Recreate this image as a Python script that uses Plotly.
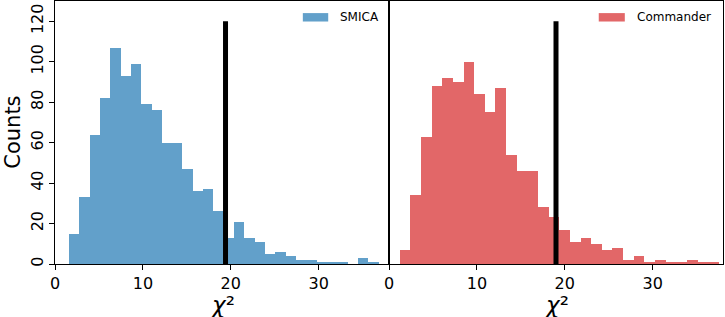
import plotly.graph_objects as go
from plotly.subplots import make_subplots

# ---- data ----
smica_bin_start = 1.59
smica_bin_width = 1.174
smica_counts = [15, 33, 64, 82, 107, 93, 99, 79, 76, 60, 60, 47, 36, 37, 26,
                13, 21, 13, 11, 5, 6, 4, 2, 2, 1, 1, 1, 0, 3, 1]
smica_obs = 19.4

cmd_bin_start = 1.22
cmd_bin_width = 1.21
cmd_counts = [7, 34, 63, 88, 92, 90, 100, 84, 75, 87, 54, 46, 46, 28, 23,
              17, 11, 13, 10, 7, 8, 2, 4, 1, 2, 1, 1, 2, 1, 1]
cmd_obs = 19.0

line_top = 120
x_ticks = [0, 10, 20, 30]
y_ticks = [0, 20, 40, 60, 80, 100, 120]
labels = ["SMICA", "Commander"]

def centers(start, width, counts):
    return [start + width * (i + 0.5) for i in range(len(counts))]

FONT = "DejaVu Sans"
BLUE = "rgba(31,119,180,0.7)"
RED = "rgba(214,39,40,0.7)"
fig = make_subplots(rows=1, cols=2, shared_yaxes=True, horizontal_spacing=0)

fig.add_trace(go.Bar(
    x=centers(smica_bin_start, smica_bin_width, smica_counts), y=smica_counts,
    width=smica_bin_width, name=labels[0],
    marker=dict(color=BLUE, line=dict(width=0)), showlegend=False), row=1, col=1)
fig.add_trace(go.Scatter(x=[smica_obs, smica_obs], y=[0, line_top], mode="lines",
                         line=dict(color="black", width=5), showlegend=False), row=1, col=1)

fig.add_trace(go.Bar(
    x=centers(cmd_bin_start, cmd_bin_width, cmd_counts), y=cmd_counts,
    width=cmd_bin_width, name=labels[1],
    marker=dict(color=RED, line=dict(width=0)), showlegend=False), row=1, col=2)
fig.add_trace(go.Scatter(x=[cmd_obs, cmd_obs], y=[0, line_top], mode="lines",
                         line=dict(color="black", width=5), showlegend=False), row=1, col=2)

axis_common = dict(showline=True, linecolor="black", linewidth=1, mirror=True,
                   ticks="outside", ticklen=5, tickcolor="black", showgrid=False,
                   zeroline=False, automargin=False,
                   tickfont=dict(family=FONT, size=16, color="black"))

for c in (1, 2):
    fig.update_xaxes(range=[0, 38], tickvals=x_ticks, row=1, col=c, **axis_common)
fig.update_yaxes(range=[0, 130], tickvals=y_ticks, tickangle=-90,
                 row=1, col=1, **axis_common)
fig.update_yaxes(range=[0, 130], row=1, col=2, showticklabels=False, ticks="",
                 showline=True, linecolor="black", linewidth=1, mirror=True,
                 showgrid=False, zeroline=False, automargin=False)

annotations = [
    dict(text="<i>χ</i>²", x=0.25, y=-0.155, xref="paper", yref="paper",
         xanchor="center", yanchor="middle", showarrow=False,
         font=dict(family=FONT, size=23, color="black")),
    dict(text="<i>χ</i>²", x=0.75, y=-0.155, xref="paper", yref="paper",
         xanchor="center", yanchor="middle", showarrow=False,
         font=dict(family=FONT, size=23, color="black")),
    dict(text="Counts", x=-0.064, y=0.5, xref="paper", yref="paper", textangle=-90,
         xanchor="center", yanchor="middle", showarrow=False,
         font=dict(family=FONT, size=21, color="black")),
    dict(text=labels[0], x=0.424, y=0.939, xref="paper", yref="paper",
         xanchor="left", yanchor="middle", showarrow=False,
         font=dict(family=FONT, size=12, color="black")),
    dict(text=labels[1], x=0.868, y=0.939, xref="paper", yref="paper",
         xanchor="left", yanchor="middle", showarrow=False,
         font=dict(family=FONT, size=12, color="black")),
]
shapes = [
    dict(type="rect", xref="paper", yref="paper", x0=0.371, x1=0.409, y0=0.922, y1=0.954,
         fillcolor=BLUE, line=dict(width=0)),
    dict(type="rect", xref="paper", yref="paper", x0=0.814, x1=0.853, y0=0.922, y1=0.954,
         fillcolor=RED, line=dict(width=0)),
]

fig.update_layout(
    width=725, height=317,
    margin=dict(l=55, r=2, t=1, b=53),
    plot_bgcolor="white", paper_bgcolor="white",
    bargap=0, showlegend=False,
    annotations=annotations, shapes=shapes,
)

fig.write_html("out.html", config={"displayModeBar": False},
               post_script="document.body.style.margin='0';document.body.style.padding='0';")
